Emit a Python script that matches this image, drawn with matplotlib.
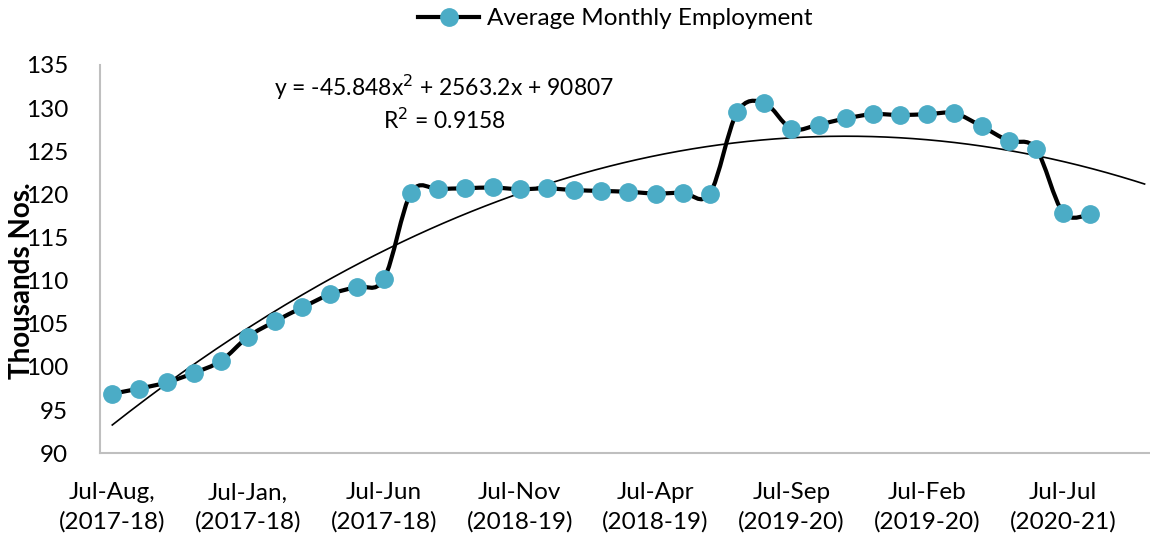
import numpy as np
import matplotlib
matplotlib.use("Agg")
import matplotlib.pyplot as plt
from matplotlib.path import Path
from matplotlib.patches import PathPatch
from matplotlib.lines import Line2D

plt.rcParams['font.family'] = ['Lato', 'DejaVu Sans']

# ---- data (thousands) ----
employment = [96.9, 97.5, 98.2, 99.3, 100.7, 103.5, 105.3, 106.9, 108.4, 109.3,
              110.2, 120.2, 120.6, 120.7, 120.8, 120.6, 120.7, 120.5, 120.4, 120.3,
              120.1, 120.2, 120.1, 129.5, 130.6, 127.6, 128.1, 128.8, 129.3, 129.2,
              129.3, 129.4, 127.9, 126.2, 125.3, 117.9, 117.7]
tick_positions = [0, 5, 10, 15, 20, 25, 30, 35]
tick_labels = ["Jul-Aug,\n(2017-18)", "Jul-Jan,\n(2017-18)", "Jul-Jun\n(2017-18)",
               "Jul-Nov\n(2018-19)", "Jul-Apr\n(2018-19)", "Jul-Sep\n(2019-20)",
               "Jul-Feb\n(2019-20)", "Jul-Jul\n(2020-21)"]
series_name = "Average Monthly Employment"
y_title = "Thousands Nos."
equation_text = "y = -45.848x$^{2}$ + 2563.2x + 90807"
r2_text = "R$^{2}$ = 0.9158"
forecast_forward = 2

marker_color = "#4BACC6"
axis_color = "#BFBFBF"

fig = plt.figure(figsize=(11.5, 5.37), dpi=100)
ax = fig.add_axes([0.087, 0.156, 0.913, 0.723])

x = np.arange(len(employment))
y = np.array(employment, dtype=float)

# smoothed line (Excel-style Bezier through points)
verts = [(x[0], y[0])]
codes = [Path.MOVETO]
n = len(x)
for i in range(n - 1):
    p0 = np.array([x[max(i - 1, 0)], y[max(i - 1, 0)]])
    p1 = np.array([x[i], y[i]])
    p2 = np.array([x[i + 1], y[i + 1]])
    p3 = np.array([x[min(i + 2, n - 1)], y[min(i + 2, n - 1)]])
    c1 = p1 + (p2 - p0) / 6.0
    c2 = p2 - (p3 - p1) / 6.0
    verts += [tuple(c1), tuple(c2), tuple(p2)]
    codes += [Path.CURVE4] * 3
patch = PathPatch(Path(verts, codes), facecolor='none', edgecolor='black',
                  lw=3.0, capstyle='round', joinstyle='round', zorder=3)
ax.add_patch(patch)
ax.plot(x, y, linestyle='none', marker='o', markersize=12.5,
        markerfacecolor=marker_color, markeredgecolor=marker_color, zorder=4)

# polynomial trendline (order 2), fitted on x = 1..n
coef = np.polyfit(x + 1, y, 2)
xt = np.linspace(0, n - 1 + forecast_forward, 300)
ax.plot(xt, np.polyval(coef, xt + 1), color='black', lw=1.2, zorder=2)

ax.set_xlim(-0.45, 38.2)
ax.set_ylim(90, 135)
ax.set_yticks(np.arange(90, 136, 5))
ax.set_xticks(tick_positions)
ax.set_xticklabels(tick_labels, fontsize=17.5, linespacing=1.42)
ax.tick_params(axis='both', length=0, colors='black')
ax.tick_params(axis='y', labelsize=17.5, pad=23)
ax.tick_params(axis='x', pad=21)
for s in ['top', 'right']:
    ax.spines[s].set_visible(False)
for s in ['left', 'bottom']:
    ax.spines[s].set_color(axis_color)
    ax.spines[s].set_linewidth(1.5)

fig.text(22 / 1150, 1 - 281 / 537, y_title, rotation=90, ha='center',
         va='center', fontsize=20, fontweight='bold')

ax.text(0.328, 0.941, equation_text, transform=ax.transAxes, ha='center',
        va='center', fontsize=16.5)
ax.text(0.328, 0.858, r2_text, transform=ax.transAxes, ha='center',
        va='center', fontsize=16.5)

handle = Line2D([0], [0], color='black', lw=3, marker='o', markersize=12.5,
                markerfacecolor=marker_color, markeredgecolor=marker_color)
fig.legend([handle], [series_name], loc='center', bbox_to_anchor=(0.535, 0.965),
           frameon=False, fontsize=17.5, handlelength=2.5, handletextpad=0.3)

fig.savefig("out.png", dpi=100)
